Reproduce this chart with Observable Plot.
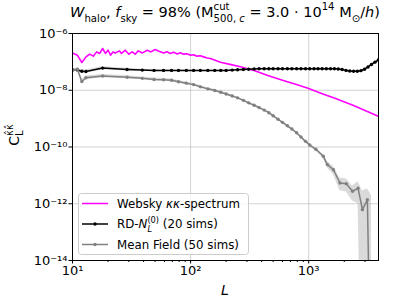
<!DOCTYPE html>
<html><head><meta charset="utf-8">
<script src="https://cdn.jsdelivr.net/npm/d3@7"></script>
<script src="https://cdn.jsdelivr.net/npm/@observablehq/plot@0.6"></script>
<style>body{margin:0;background:#fff;} #chart{width:395px;height:303px;}</style>
</head><body><div id="chart"></div>
<script>
// Websky kappa-kappa spectrum
const websL = [10,11,12,13,14,15,16,17,18,19,20,21,22,23,25,26,28,30,32,34,36,39,43,46,50,54,59,63,67,72,77,82,87,93,100,106,113,121,129,138,147,168,179,220,264,350,450,600,800,1000,1300,1690,2400,3000,3890];
const websC = [2.07e-7,1.72e-7,9.5e-8,1.50e-7,1.87e-7,1.59e-7,2.25e-7,1.98e-7,2.96e-7,1.98e-7,2.58e-7,1.72e-7,2.25e-7,2.07e-7,
  2.44e-7,1.98e-7,2.58e-7,1.87e-7,2.25e-7,1.87e-7,2.44e-7,2.07e-7,
  2.58e-7,2.25e-7,2.74e-7,2.38e-7,2.07e-7,2.29e-7,1.98e-7,2.20e-7,1.90e-7,2.10e-7,1.87e-7,1.94e-7,
  1.72e-7,1.79e-7,1.59e-7,1.65e-7,1.50e-7,1.37e-7,1.32e-7,1.08e-7,9.7e-8,
  8.0e-8,6.7e-8,4.9e-8,3.3e-8,2.27e-8,1.55e-8,1.16e-8,7.6e-9,5.1e-9,2.9e-9,1.95e-9,1.22e-9];
// RD-N0 (20 sims)
const rdL = [10,11,12,13,18,29,39,49,59,69,79,92,106,121,140,160,180,200,225,250,280,310,345,380,420,460,500,550,600,660,720,790,860,940,1020,1110,1200,1300,1410,1530,1650,1780,1920,2070,2230,2400,2580,2770,2970,3180,3400,3640,3900];
const rdC = [5.25e-8,5.13e-8,4.68e-8,4.57e-8,6.03e-8,5.37e-8,5.13e-8,5.01e-8,5.01e-8,5.01e-8,5.01e-8,5.01e-8,
  5.01e-8,5.01e-8,5.01e-8,5.01e-8,5.01e-8,5.01e-8,5.13e-8,5.25e-8,5.37e-8,5.50e-8,
  5.62e-8,5.75e-8,5.75e-8,5.75e-8,5.75e-8,5.75e-8,5.75e-8,5.75e-8,5.75e-8,5.75e-8,
  5.75e-8,5.75e-8,5.75e-8,5.75e-8,5.75e-8,5.75e-8,5.75e-8,5.75e-8,5.75e-8,5.62e-8,
  5.37e-8,5.01e-8,4.79e-8,4.68e-8,4.68e-8,4.90e-8,5.50e-8,6.61e-8,8.13e-8,9.77e-8,1.17e-7];
const rdErr = [6e-9,6e-9,6e-9,6e-9,7e-9,6e-9,4e-9,3.5e-9,3e-9,3e-9,2.5e-9,2.5e-9,
  2e-9,2e-9,2e-9,2e-9,2e-9,2e-9,2e-9,2e-9,2e-9,2e-9,
  2e-9,2e-9,2e-9,2e-9,2e-9,2e-9,2e-9,2e-9,2e-9,2e-9,
  2e-9,2e-9,2e-9,2e-9,2e-9,2e-9,2e-9,2e-9,2e-9,2e-9,
  2e-9,2e-9,2e-9,2e-9,2e-9,2e-9,3e-9,3e-9,4e-9,5e-9,6e-9];
// Mean field (50 sims); last value is non-positive (shown clipped)
const mfL = [10,11,12,13,18,29,39,49,59,69,79,92,106,121,140,160,180,200,225,250,280,310,345,380,420,460,500,550,600,660,720,790,860,940,1020,1150,1330,1440,1620,1840,2080,2350,2620,2850,3140,3400];
const mfC = [5.01e-8,5.50e-8,2.04e-8,2.75e-8,3.16e-8,2.88e-8,2.63e-8,2.40e-8,2.34e-8,2.24e-8,2.0e-8,1.78e-8,
  1.58e-8,1.32e-8,1.12e-8,9.8e-9,8.5e-9,7.4e-9,6.3e-9,5.4e-9,4.4e-9,3.6e-9,
  2.95e-9,2.45e-9,2.0e-9,1.62e-9,1.26e-9,9.5e-10,7.4e-10,5.6e-10,4.3e-10,3.16e-10,
  2.24e-10,1.58e-10,1.17e-10,
  8.3e-11,4.7e-11,2.4e-11,1.58e-11,5.4e-12,5.1e-12,2.75e-12,3.5e-12,6.2e-13,1.38e-12,
  1e-20];
const mfErr = [5e-9,6e-9,3e-9,4e-9,4e-9,3.5e-9,3e-9,2.8e-9,2.6e-9,2.4e-9,2.2e-9,1.9e-9,
  1.5e-9,1.2e-9,1.0e-9,8e-10,7e-10,6e-10,5e-10,4.3e-10,3.5e-10,2.9e-10,
  2.4e-10,2e-10,1.6e-10,1.3e-10,1.0e-10,8e-11,6e-11,4.5e-11,3.5e-11,2.6e-11,
  1.9e-11,1.4e-11,1.1e-11,
  9e-12,7e-12,6e-12,5e-12,2.5e-12,2.5e-12,1.5e-12,2.5e-12,2.2e-12,2.0e-12,
  2.0e-12];

const xTicks = [10,100,1000];
const xMinor = [20,30,40,50,60,70,80,90,200,300,400,500,600,700,800,900,2000,3000];
const yTicks = [1e-14,1e-12,1e-10,1e-8,1e-6];
const legendLabels = ["Websky κκ-spectrum","RD-N_L^(0) (20 sims)","Mean Field (50 sims)"];

const SUP = {"-":"⁻","0":"⁰","1":"¹","2":"²","3":"³","4":"⁴","5":"⁵","6":"⁶","7":"⁷","8":"⁸","9":"⁹"};
const fmt = v => "10" + String(Math.round(Math.log10(v))).split("").map(c => SUP[c]).join("");
const FLOOR = 1e-20;

const websky = websL.map((L,i) => ({L, C: websC[i]}));
const rd = rdL.map((L,i) => ({L, C: rdC[i], e: rdErr[i]}));
const mf = mfL.map((L,i) => ({L, C: mfC[i], e: mfErr[i]}));

const FONT = "DejaVu Sans";
const svg = Plot.plot({
  width: 395, height: 303,
  marginLeft: 72, marginRight: 17, marginTop: 33, marginBottom: 43,
  style: {fontFamily: FONT, fontSize: "13px", background: "white", color: "black", overflow: "visible"},
  x: {type: "log", domain: [10, 3900]},
  y: {type: "log", domain: [1e-14, 1e-6]},
  marks: [
    Plot.gridX({ticks: xTicks, stroke: "#b0b0b0", strokeOpacity: 0.7, strokeWidth: 0.8}),
    Plot.gridY({ticks: yTicks, stroke: "#b0b0b0", strokeOpacity: 0.7, strokeWidth: 0.8}),
    Plot.line(websky, {x: "L", y: "C", stroke: "#ff00ff", strokeWidth: 1.6, clip: true}),
    Plot.areaY(rd, {x: "L", y1: d => Math.max(d.C - d.e, FLOOR), y2: d => d.C + d.e, fill: "#bbbbbb", fillOpacity: 0.55, clip: true}),
    Plot.line(rd, {x: "L", y: "C", stroke: "black", strokeWidth: 1.5, clip: true}),
    Plot.dot(rd, {x: "L", y: "C", fill: "black", r: 1.7, clip: true}),
    Plot.areaY(mf, {x: "L", y1: d => Math.max(d.C - d.e, FLOOR), y2: d => d.C + d.e, fill: "#bbbbbb", fillOpacity: 0.55, clip: true}),
    Plot.line(mf, {x: "L", y: "C", stroke: "#808080", strokeWidth: 1.5, clip: true}),
    Plot.dot(mf, {x: "L", y: "C", fill: "#808080", r: 1.7, clip: true}),
    Plot.frame({stroke: "black", strokeWidth: 1}),
    Plot.axisX({ticks: xTicks, tickFormat: fmt, tickSize: 3.5, tickPadding: 2, label: null, fontSize: 13}),
    Plot.axisX({ticks: xMinor, tickFormat: () => "", tickSize: 2, label: null}),
    Plot.axisY({ticks: yTicks, tickFormat: fmt, tickSize: 3.5, tickPadding: 1.5, label: null, fontSize: 13})
  ]
});
document.getElementById("chart").appendChild(svg);
const root = d3.select(svg);

function richText(parent, segs, {x, y, anchor = "middle", size, rotate = 0}) {
  const g = parent.append("g").attr("font-family", FONT).attr("fill", "black").attr("text-anchor", "start");
  const inner = g.append("g");
  let cx = 0, lastStart = 0;
  for (const s of segs) {
    const fs = s.small ? size * 0.7 : size;
    const dy = s.sup ? -size * 0.45 : s.sub ? size * 0.32 : 0;
    const start = s.stack ? lastStart : cx;
    const t = inner.append("text").attr("x", start).attr("y", dy).attr("font-size", fs)
      .attr("font-style", s.it ? "italic" : null).attr("text-anchor", "start")
      .style("white-space", "pre").text(s.t);
    const w = t.node().getComputedTextLength();
    cx = s.stack ? Math.max(cx, start + w) : start + w;
    lastStart = start;
  }
  const off = anchor === "middle" ? -cx / 2 : anchor === "end" ? -cx : 0;
  g.attr("transform", `translate(${x},${y}) rotate(${rotate}) translate(${off},0)`);
  return cx;
}

// Title
richText(root, [
  {t: "W", it: true}, {t: "halo", sub: true, small: true}, {t: ", "},
  {t: "f", it: true}, {t: "sky", sub: true, small: true}, {t: " = 98% (M"},
  {t: "cut", sup: true, small: true}, {t: "500, ", sub: true, small: true, stack: true}, {t: "c", sub: true, small: true, it: true},
  {t: " = 3.0 · 10"}, {t: "14", sup: true, small: true}, {t: " M"}, {t: "⊙", sub: true, small: true},
  {t: "/"}, {t: "h", it: true}, {t: ")"}
], {x: 225, y: 17, size: 14.5});

// Axis labels
richText(root, [{t: "L", it: true}], {x: 225, y: 295, size: 14});
richText(root, [{t: "C"}, {t: "κ̂κ̂", sup: true, small: true}, {t: "L", sub: true, small: true, stack: true}],
  {x: 19, y: 135, size: 14, rotate: -90});

// Legend
const lg = root.append("g");
lg.append("rect").attr("x", 78.5).attr("y", 193.5).attr("width", 170).attr("height", 61).attr("rx", 3)
  .attr("fill", "white").attr("fill-opacity", 0.8).attr("stroke", "#cccccc");
const rows = [
  {y: 203.5, color: "#ff00ff", dot: false, segs: [{t: "Websky "}, {t: "κκ", it: true}, {t: "-spectrum"}]},
  {y: 224, color: "black", dot: true, segs: [{t: "RD-"}, {t: "N", it: true}, {t: "(0)", sup: true, small: true}, {t: "L", sub: true, small: true, it: true, stack: true}, {t: " (20 sims)"}]},
  {y: 244.5, color: "#808080", dot: true, segs: [{t: "Mean Field (50 sims)"}]}
];
for (const r of rows) {
  lg.append("line").attr("x1", 82).attr("x2", 108).attr("y1", r.y).attr("y2", r.y).attr("stroke", r.color).attr("stroke-width", 1.5);
  if (r.dot) lg.append("circle").attr("cx", 95).attr("cy", r.y).attr("r", 1.7).attr("fill", r.color);
  richText(lg, r.segs, {x: 117, y: r.y + 4.2, anchor: "start", size: 11.8});
}
</script>
</body></html>
